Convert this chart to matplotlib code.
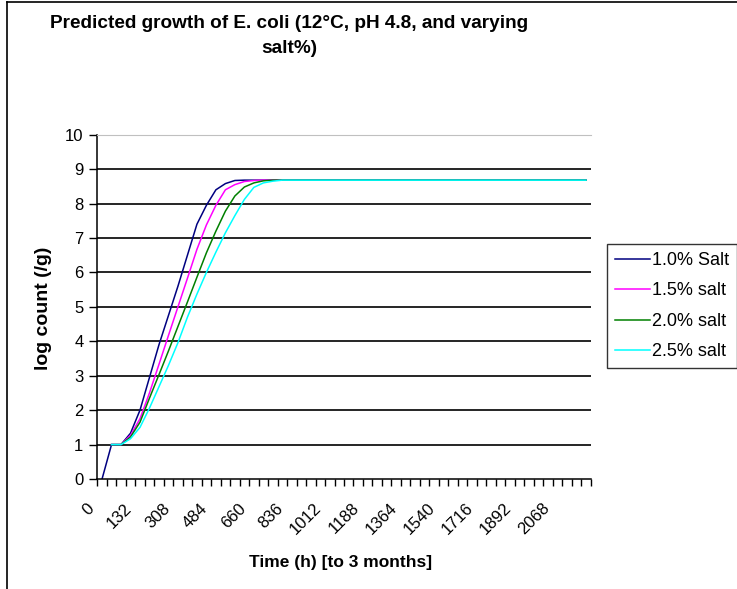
import numpy as np
import matplotlib.pyplot as plt
from matplotlib.lines import Line2D
from matplotlib.transforms import ScaledTranslation

plt.rcParams['font.family'] = ['Liberation Sans', 'DejaVu Sans']

# time categories (h): a dummy 0 row, then every 44 h up to 3 months
hours = [0] + list(range(0, 2201, 44))
tick_every = 4

salt_10 = [0, 1, 1, 1.33, 2.0, 2.95, 3.9, 4.75, 5.6, 6.5, 7.4, 7.95, 8.4, 8.58, 8.67, 8.68,
           8.68, 8.68, 8.68, 8.68, 8.68, 8.68, 8.68, 8.68, 8.68, 8.68, 8.68, 8.68, 8.68, 8.68,
           8.68, 8.68, 8.68, 8.68, 8.68, 8.68, 8.68, 8.68, 8.68, 8.68, 8.68, 8.68, 8.68, 8.68,
           8.68, 8.68, 8.68, 8.68, 8.68, 8.68, 8.68, 8.68]
salt_15 = [np.nan, 1, 1, 1.27, 1.75, 2.5, 3.33, 4.17, 5.0, 5.83, 6.67, 7.38, 7.95, 8.4, 8.55,
           8.64, 8.67, 8.68, 8.68, 8.68, 8.68, 8.68, 8.68, 8.68, 8.68, 8.68, 8.68, 8.68, 8.68,
           8.68, 8.68, 8.68, 8.68, 8.68, 8.68, 8.68, 8.68, 8.68, 8.68, 8.68, 8.68, 8.68, 8.68,
           8.68, 8.68, 8.68, 8.68, 8.68, 8.68, 8.68, 8.68, 8.68]
salt_20 = [np.nan, 1, 1, 1.22, 1.65, 2.35, 3.03, 3.72, 4.43, 5.14, 5.86, 6.57, 7.2, 7.78, 8.22,
           8.48, 8.6, 8.66, 8.68, 8.68, 8.68, 8.68, 8.68, 8.68, 8.68, 8.68, 8.68, 8.68, 8.68,
           8.68, 8.68, 8.68, 8.68, 8.68, 8.68, 8.68, 8.68, 8.68, 8.68, 8.68, 8.68, 8.68, 8.68,
           8.68, 8.68, 8.68, 8.68, 8.68, 8.68, 8.68, 8.68, 8.68]
salt_25 = [np.nan, 1, 1, 1.17, 1.5, 2.06, 2.68, 3.3, 3.96, 4.7, 5.37, 6.0, 6.59, 7.15, 7.65,
           8.12, 8.47, 8.6, 8.65, 8.68, 8.68, 8.68, 8.68, 8.68, 8.68, 8.68, 8.68, 8.68, 8.68,
           8.68, 8.68, 8.68, 8.68, 8.68, 8.68, 8.68, 8.68, 8.68, 8.68, 8.68, 8.68, 8.68, 8.68,
           8.68, 8.68, 8.68, 8.68, 8.68, 8.68, 8.68, 8.68, 8.68]

series = [(salt_10, '1.0% Salt', '#000080'),
          (salt_15, '1.5% salt', '#ff00ff'),
          (salt_20, '2.0% salt', '#008000'),
          (salt_25, '2.5% salt', '#00ffff')]

W, H = 737, 589
fig = plt.figure(figsize=(W / 100, H / 100), dpi=100)
ax = fig.add_axes([97.3 / W, 110 / H, (590.7 - 97.3) / W, (479 - 134.7) / H])

x = np.arange(len(hours))
for vals, lab, col in series:
    ax.plot(x, vals, color=col, lw=1.1, label=lab)

ax.set_xlim(-0.5, len(hours) - 0.5)
ax.set_ylim(0, 10)
ax.set_yticks(range(0, 11))
for v in range(1, 10):
    ax.axhline(v, color='black', lw=1.2, zorder=0)

# ticks on category borders, labels on category centres
ax.set_xticks(np.arange(len(hours) + 1) - 0.5)
ax.set_xticklabels([])
ax.tick_params(axis='x', which='major', direction='out', length=5, width=1)
lab_idx = x[::tick_every]
ax.set_xticks(lab_idx, minor=True)
ax.set_xticklabels([str(hours[i]) for i in lab_idx], minor=True, rotation=45,
                   ha='right', va='top', rotation_mode='anchor', fontsize=12)
ax.tick_params(axis='x', which='minor', length=0, pad=9)
shift = ScaledTranslation(-16 / 100, -9 / 100, fig.dpi_scale_trans)
for t in ax.get_xticklabels(minor=True):
    t.set_transform(t.get_transform() + shift)
ax.tick_params(axis='y', direction='out', length=6, width=1, labelsize=12, pad=4)

for s in ['left', 'bottom']:
    ax.spines[s].set_linewidth(1.1)
ax.spines['right'].set_visible(False)
ax.spines['top'].set_color('#c0c0c0')

fig.text(43 / W, 1 - 308 / H, 'log count (/g)', rotation=90, ha='center', va='center',
         fontsize=14, fontweight='bold')
fig.text(341 / W, 1 - 563 / H, 'Time (h) [to 3 months]', ha='center', va='center',
         fontsize=12.5, fontweight='bold')

fig.text(289.5 / W, 1 - 36 / H, 'Predicted growth of E. coli (12°C, pH 4.8, and varying\nsalt%)',
         ha='center', va='center', fontsize=13.7, fontweight='bold', linespacing=1.55)

leg = fig.legend(loc='upper left', bbox_to_anchor=(606.7 / W, 1 - 244 / H), fontsize=13,
                 frameon=True, fancybox=False, edgecolor='black', handlelength=1.95,
                 handletextpad=0.12, labelspacing=0.74, borderpad=0.45, borderaxespad=0)
leg.get_frame().set_linewidth(1.0)

# outer chart border
fig.add_artist(Line2D([7 / W, 7 / W], [0, 1 - 2 / H], color='black', lw=1.2))
fig.add_artist(Line2D([7 / W, 1], [1 - 2 / H, 1 - 2 / H], color='black', lw=1.2))

fig.savefig('out.png', dpi=100)
